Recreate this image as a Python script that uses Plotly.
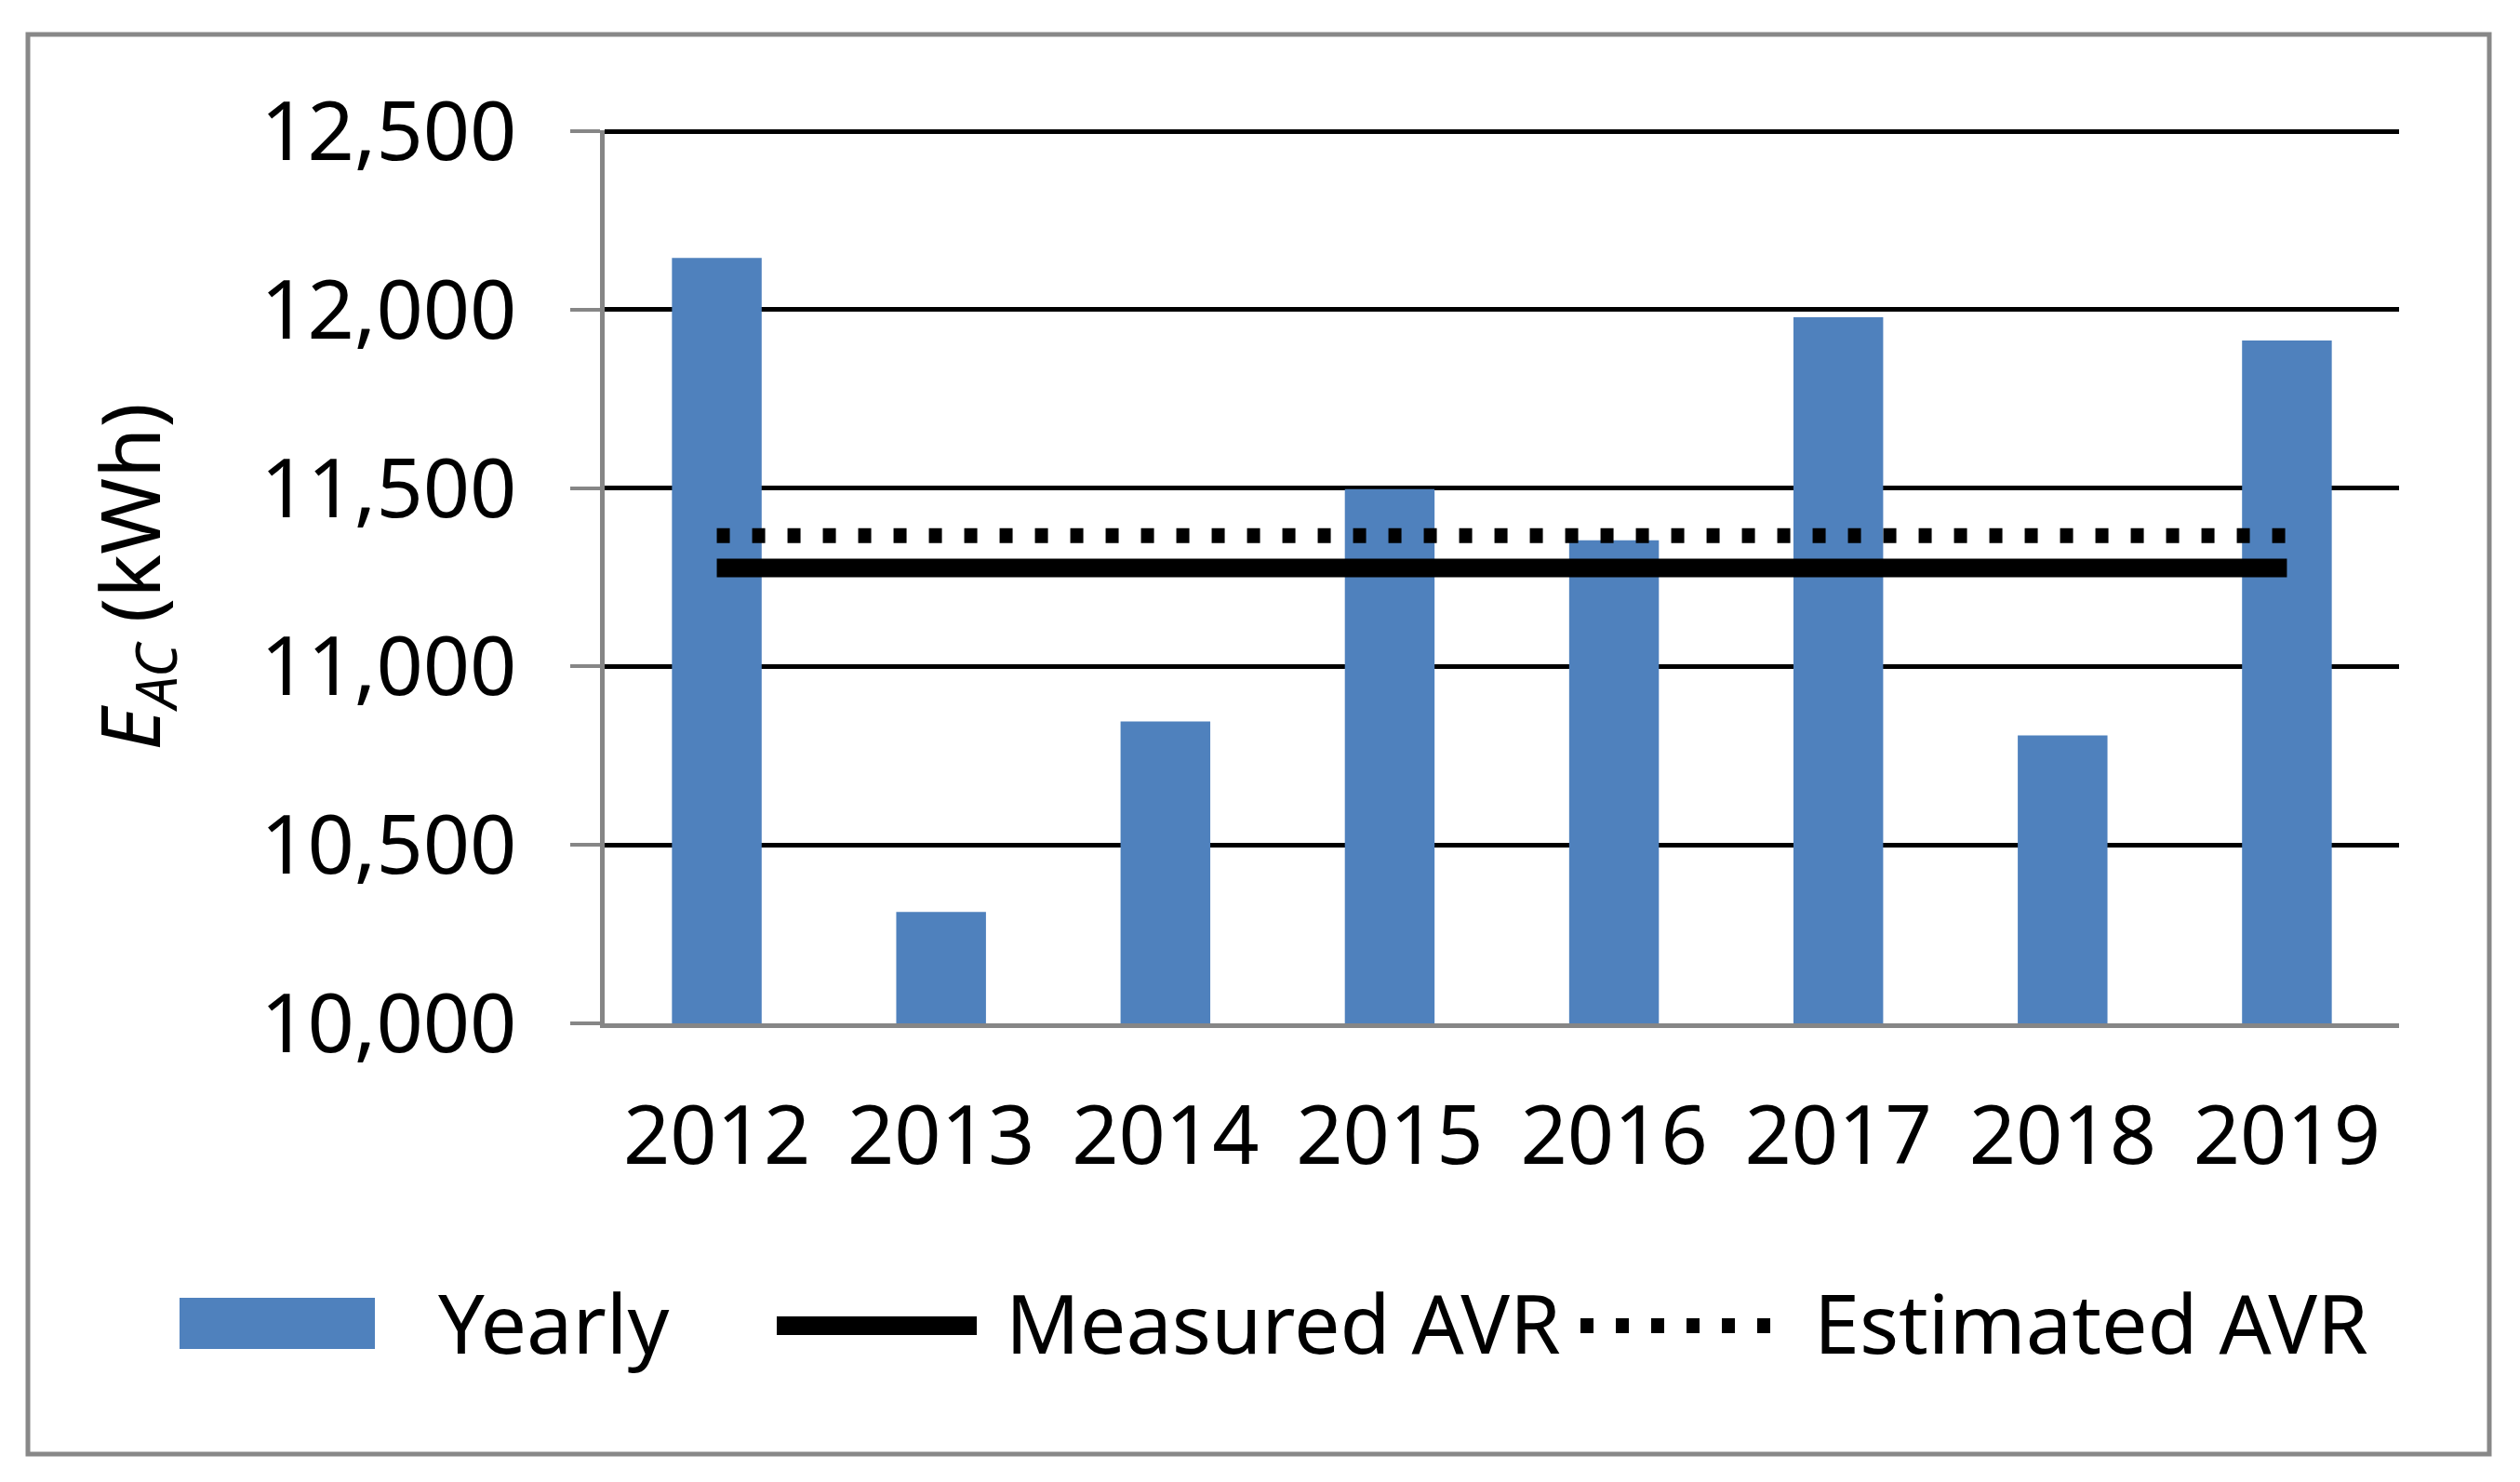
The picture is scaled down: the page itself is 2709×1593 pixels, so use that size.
import plotly.graph_objects as go

# ---- data ----
years = ["2012", "2013", "2014", "2015", "2016", "2017", "2018", "2019"]
yearly_kwh = [12145, 10312, 10846, 11497, 11354, 11979, 10807, 11914]
measured_avr = [11276, 11276, 11276, 11276, 11276, 11276, 11276, 11276]
estimated_avr = [11367, 11367, 11367, 11367, 11367, 11367, 11367, 11367]
y_ticks = [10000, 10500, 11000, 11500, 12000, 12500]
y_ticktext = ["10,000", "10,500", "11,000", "11,500", "12,000", "12,500"]
series_names = ["Yearly", "Measured AVR", "Estimated AVR"]

FONT = "Noto Sans"
BAR_COLOR = "#4F81BD"
W, H = 2709, 1593
L, R, T, B = 650, 130, 140, 493
pw, ph = W - L - R, H - T - B


def px(xp):
    return (xp - L) / pw


def py(yp):
    return (H - B - yp) / ph


fig = go.Figure()
fig.add_trace(go.Bar(
    x=years, y=yearly_kwh, name=series_names[0],
    marker=dict(color=BAR_COLOR, line=dict(width=0)),
    width=0.4, showlegend=False,
))
fig.add_trace(go.Scatter(
    x=years, y=measured_avr, name=series_names[1], mode="lines",
    line=dict(color="black", width=20), showlegend=False,
))
fig.add_trace(go.Scatter(
    x=years, y=estimated_avr, name=series_names[2], mode="lines",
    line=dict(color="black", width=16, dash="14px,24px"), showlegend=False,
))

# legend drawn as decorations (paper coordinates)
legend_shapes = [
    dict(type="rect", xref="paper", yref="paper",
         x0=px(193), x1=px(403), y0=py(1450), y1=py(1395),
         fillcolor=BAR_COLOR, line=dict(width=0)),
    dict(type="line", xref="paper", yref="paper",
         x0=px(835), x1=px(1050), y0=py(1425), y1=py(1425),
         line=dict(color="black", width=20)),
    dict(type="line", xref="paper", yref="paper",
         x0=px(1699), x1=px(1920), y0=py(1425), y1=py(1425),
         line=dict(color="black", width=16, dash="14px,24px")),
]
legend_text_x = [469, 1079, 1948]
legend_annotations = [
    dict(text=name, xref="paper", yref="paper", x=px(xt), y=py(1421),
         xanchor="left", yanchor="middle", showarrow=False,
         font=dict(family=FONT, size=88, color="black"))
    for name, xt in zip(series_names, legend_text_x)
]

border = dict(
    type="rect", xref="paper", yref="paper",
    x0=px(30), x1=px(2676), y0=py(1563), y1=py(37),
    line=dict(color="#888888", width=5),
    fillcolor="rgba(0,0,0,0)", layer="below",
)

fig.update_layout(
    width=W, height=H,
    margin=dict(l=L, r=R, t=T, b=B, pad=0),
    paper_bgcolor="white", plot_bgcolor="white",
    font=dict(family=FONT, size=88, color="black"),
    showlegend=False,
    xaxis=dict(
        type="category",
        showline=True, linecolor="#868686", linewidth=5,
        ticks="", showgrid=False,
        tickfont=dict(family=FONT, size=88, color="black"),
        ticklabelstandoff=40,
    ),
    yaxis=dict(
        range=[10000, 12503],
        tickvals=y_ticks, ticktext=y_ticktext,
        showline=True, linecolor="#868686", linewidth=5,
        ticks="outside", ticklen=32, tickwidth=4, tickcolor="#868686",
        showgrid=True, gridcolor="black", gridwidth=5,
        zeroline=False,
        tickfont=dict(family=FONT, size=88, color="black"),
        ticklabelstandoff=40,
        title=dict(
            text="<i>E</i><sub><i>AC</i></sub> (kWh)",
            font=dict(family=FONT, size=88, color="black"),
            standoff=80,
        ),
    ),
    shapes=[border] + legend_shapes,
    annotations=legend_annotations,
)

fig.write_html(
    "out.html",
    config={"displayModeBar": False},
    post_script="document.body.style.margin='0';document.body.style.overflow='hidden';",
)
